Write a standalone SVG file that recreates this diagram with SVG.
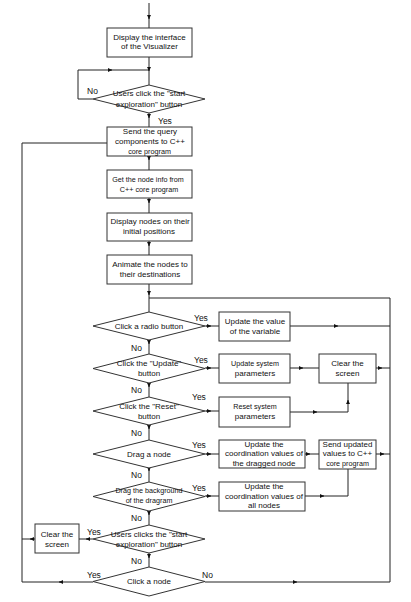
<svg xmlns="http://www.w3.org/2000/svg" width="411" height="602" viewBox="0 0 411 602">
<style>
.b{fill:#fff;stroke:#333;stroke-width:1}
.c{fill:none;stroke:#222;stroke-width:1}
.t{font-family:"Liberation Sans",Arial,sans-serif;font-size:8px;fill:#111;text-anchor:middle;dominant-baseline:central}
.n{font-size:7.2px}
.l{font-family:"Liberation Sans",Arial,sans-serif;font-size:8.5px;fill:#111;dominant-baseline:central}
</style>
<defs>
<marker id="a" markerWidth="5" markerHeight="5" refX="4" refY="2" orient="auto" markerUnits="userSpaceOnUse">
<path d="M0,0 L4,2 L0,4 z" fill="#111"/>
</marker>
</defs>
<rect width="411" height="602" fill="#fff"/>
<g id="connectors">
<path class="c" d="M149 3 V28"/>
<path class="c" d="M149 57 V85"/>
<path class="c" d="M93 99 H78 V70 H149"/>
<path class="c" d="M149 113 V127"/>
<path class="c" d="M149 156 V170"/>
<path class="c" d="M149 198 V213"/>
<path class="c" d="M149 241 V255"/>
<path class="c" d="M149 284 V312"/>
<path class="c" d="M149 298 H390 V582"/>
<path class="c" d="M149 340 V354"/>
<path class="c" d="M149 383 V397"/>
<path class="c" d="M149 425 V440"/>
<path class="c" d="M149 468 V482"/>
<path class="c" d="M149 511 V525"/>
<path class="c" d="M149 553 V567"/>
<path class="c" d="M205 326 H219"/>
<path class="c" d="M205 368 H219"/>
<path class="c" d="M205 411 H219"/>
<path class="c" d="M205 454 H219"/>
<path class="c" d="M205 496 H219"/>
<path class="c" d="M290 326 H390"/>
<path class="c" d="M290 368 H319"/>
<path class="c" d="M376 368 H390"/>
<path class="c" d="M290 412 H348 V383"/>
<path class="c" d="M305 454 H319"/>
<path class="c" d="M376 454 H390"/>
<path class="c" d="M305 496 H348 V469"/>
<path class="c" d="M93 539 H79"/>
<path class="c" d="M35 539 H22"/>
<path class="c" d="M93 582 H22 V143 H107"/>
<path class="c" d="M205 582 H390"/>
<g marker-end="url(#a)" class="c">
<path d="M149 15 V19"/>
<path d="M149 67 V71"/>
<path d="M108 70 H112"/>
<path d="M149 114 V118"/>
<path d="M149 156 V160"/>
<path d="M149 199 V203"/>
<path d="M149 242 V246"/>
<path d="M149 291 V295"/>
<path d="M149 340 V344"/>
<path d="M149 383 V387"/>
<path d="M149 425 V429"/>
<path d="M149 467 V471"/>
<path d="M149 511 V515"/>
<path d="M149 554 V558"/>
<path d="M206 326 H211"/>
<path d="M206 368 H211"/>
<path d="M206 411 H211"/>
<path d="M206 454 H211"/>
<path d="M206 496 H211"/>
<path d="M334 326 H338"/>
<path d="M299 368 H303"/>
<path d="M378 368 H382"/>
<path d="M313 412 H317"/>
<path d="M348 404 V400"/>
<path d="M306 454 H310"/>
<path d="M380 454 H384"/>
<path d="M320 496 H324"/>
<path d="M90 539 H86"/>
<path d="M34 539 H30"/>
<path d="M63 582 H59"/>
<path d="M293 582 H297"/>
</g>
<text class="l" x="87" y="91">No</text>
<text class="l" x="158" y="121">Yes</text>
<text class="l" x="194" y="318">Yes</text>
<text class="l" x="131" y="348">No</text>
<text class="l" x="194" y="360">Yes</text>
<text class="l" x="131" y="390">No</text>
<text class="l" x="192" y="397">Yes</text>
<text class="l" x="131" y="433">No</text>
<text class="l" x="192" y="445">Yes</text>
<text class="l" x="131" y="475">No</text>
<text class="l" x="192" y="488">Yes</text>
<text class="l" x="131" y="518">No</text>
<text class="l" x="87" y="532">Yes</text>
<text class="l" x="131" y="561">No</text>
<text class="l" x="87" y="575">Yes</text>
<text class="l" x="202" y="575">No</text>
</g>
<g id="n1"><rect class="b" x="107" y="28" width="85" height="29"/><text class="t" x="149.5" y="37">Display the interface</text><text class="t" x="149.5" y="46.5">of the Visualizer</text></g>
<g id="d1"><polygon class="b" points="149,85 205,99 149,113 93,99"/><text class="t" x="149" y="93.5">Users click the "start</text><text class="t" x="149" y="104">exploration" button</text></g>
<g id="n2"><rect class="b" x="107" y="127" width="85" height="29"/><text class="t" x="150" y="131.5">Send the query</text><text class="t" x="150" y="141.5">components to C++</text><text class="t n" x="149.5" y="151">core program</text></g>
<g id="n3"><rect class="b" x="107" y="170" width="85" height="28"/><text class="t n" x="148" y="179">Get the node info from</text><text class="t n" x="149" y="189">C++ core program</text></g>
<g id="n4"><rect class="b" x="107" y="213" width="85" height="28"/><text class="t" x="150" y="221.5">Display nodes on their</text><text class="t" x="149" y="231">initial positions</text></g>
<g id="n5"><rect class="b" x="107" y="255" width="85" height="29"/><text class="t" x="150" y="264.5">Animate the nodes to</text><text class="t" x="150" y="274">their destinations</text></g>
<g id="d2"><polygon class="b" points="149,312 205,326 149,340 93,326"/><text class="t" x="149" y="326">Click a radio button</text></g>
<g id="n6"><rect class="b" x="219" y="312" width="71" height="29"/><text class="t" x="255" y="321">Update the value</text><text class="t" x="255" y="331">of the variable</text></g>
<g id="d3"><polygon class="b" points="149,354 205,368.5 149,383 93,368.5"/><text class="t" x="149" y="363.5">Click the "Update"</text><text class="t" x="149" y="373">button</text></g>
<g id="n7"><rect class="b" x="219" y="354" width="71" height="29"/><text class="t n" x="255" y="363.5">Update system</text><text class="t" x="255" y="373">parameters</text></g>
<g id="n8"><rect class="b" x="319" y="354" width="57" height="29"/><text class="t" x="347.5" y="363.5">Clear the</text><text class="t" x="347.5" y="373">screen</text></g>
<g id="d4"><polygon class="b" points="149,397 205,411 149,425 93,411"/><text class="t" x="149" y="406">Click the "Reset"</text><text class="t" x="149" y="416">button</text></g>
<g id="n9"><rect class="b" x="219" y="397" width="71" height="30"/><text class="t n" x="255" y="406.5">Reset system</text><text class="t" x="255" y="416">parameters</text></g>
<g id="d5"><polygon class="b" points="149,440 205,454 149,468 93,454"/><text class="t" x="149" y="454">Drag a node</text></g>
<g id="n10"><rect class="b" x="219" y="440" width="86" height="28"/><text class="t" x="264" y="444">Update the</text><text class="t" x="264" y="453.7">coordination values of</text><text class="t" x="264" y="463">the dragged node</text></g>
<g id="n11"><rect class="b" x="319" y="440" width="57" height="29"/><text class="t" x="347.5" y="444">Send updated</text><text class="t" x="347.5" y="453.7">values to C++</text><text class="t n" x="347.5" y="463">core program</text></g>
<g id="d6"><polygon class="b" points="149,482 205,496.5 149,511 93,496.5"/><text class="t n" x="149" y="490.7">Drag the background</text><text class="t n" x="149" y="500">of the dragram</text></g>
<g id="n12"><rect class="b" x="219" y="482" width="86" height="29"/><text class="t" x="264" y="486.7">Update the</text><text class="t" x="264" y="496">coordination values of</text><text class="t" x="264" y="505">all nodes</text></g>
<g id="d7"><polygon class="b" points="149,525 205,539 149,553 93,539"/><text class="t" x="149" y="534">Users clicks the "start</text><text class="t" x="149" y="544">exploration" button</text></g>
<g id="n13"><rect class="b" x="35" y="524" width="44" height="29"/><text class="t" x="57" y="534">Clear the</text><text class="t" x="57" y="544">screen</text></g>
<g id="d8"><polygon class="b" points="149,567 205,581.5 149,596 93,581.5"/><text class="t" x="149" y="581.5">Click a node</text></g>
</svg>
